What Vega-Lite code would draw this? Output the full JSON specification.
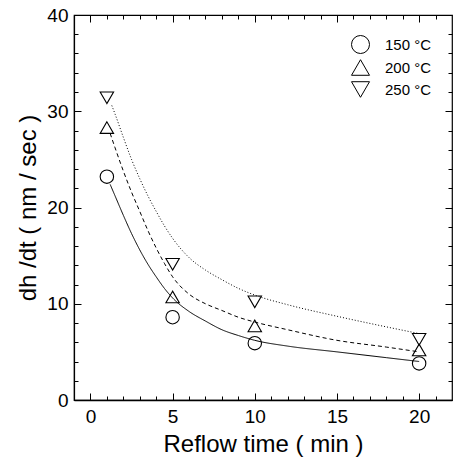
{
  "$schema": "https://vega.github.io/schema/vega-lite/v6.json",
  "width": 378,
  "height": 385,
  "autosize": "none",
  "padding": {"left": 74, "top": 15, "right": 1, "bottom": 59},
  "background": "white",
  "config": {
    "font": "Liberation Sans",
    "view": {"stroke": "black", "strokeWidth": 1.2},
    "legend": {"labelFont": "Liberation Sans", "labelColor": "black", "labelFontSize": 15, "symbolSize": 324, "rowPadding": 1, "labelOffset": 15, "padding": 0, "offset": 20, "symbolStrokeWidth": 1},
    "axis": {
      "grid": false,
      "domain": false,
      "tickColor": "black",
      "tickWidth": 1,
      "labelColor": "black",
      "titleColor": "black",
      "labelFont": "Liberation Sans",
      "titleFont": "Liberation Sans",
      "labelFontSize": 19,
      "titleFontSize": 24,
      "titleFontWeight": "normal"
    }
  },
  "datasets": {
    "pts": [
      {"t": 1, "v": 23.2, "series": "150 °C"},
      {"t": 5, "v": 8.6, "series": "150 °C"},
      {"t": 10, "v": 5.9, "series": "150 °C"},
      {"t": 20, "v": 3.8, "series": "150 °C"},
      {"t": 1, "v": 28.3, "series": "200 °C"},
      {"t": 5, "v": 10.7, "series": "200 °C"},
      {"t": 10, "v": 7.7, "series": "200 °C"},
      {"t": 20, "v": 5.2, "series": "200 °C"},
      {"t": 1, "v": 31.4, "series": "250 °C"},
      {"t": 5, "v": 14.1, "series": "250 °C"},
      {"t": 10, "v": 10.2, "series": "250 °C"},
      {"t": 20, "v": 6.3, "series": "250 °C"}
    ],
    "curves": [
      {"t": 1.2, "v": 22.4, "curve": "150 °C"},
      {"t": 1.5, "v": 21.2, "curve": "150 °C"},
      {"t": 2, "v": 19.2, "curve": "150 °C"},
      {"t": 2.5, "v": 17.3, "curve": "150 °C"},
      {"t": 3, "v": 15.6, "curve": "150 °C"},
      {"t": 3.5, "v": 14.1, "curve": "150 °C"},
      {"t": 4, "v": 12.8, "curve": "150 °C"},
      {"t": 4.5, "v": 11.6, "curve": "150 °C"},
      {"t": 5, "v": 10.6, "curve": "150 °C"},
      {"t": 6, "v": 9.2, "curve": "150 °C"},
      {"t": 7, "v": 8.2, "curve": "150 °C"},
      {"t": 8, "v": 7.3, "curve": "150 °C"},
      {"t": 9, "v": 6.7, "curve": "150 °C"},
      {"t": 10, "v": 6.2, "curve": "150 °C"},
      {"t": 12, "v": 5.6, "curve": "150 °C"},
      {"t": 15, "v": 5.0, "curve": "150 °C"},
      {"t": 18, "v": 4.4, "curve": "150 °C"},
      {"t": 20, "v": 4.0, "curve": "150 °C"},
      {"t": 1.2, "v": 27.7, "curve": "200 °C"},
      {"t": 1.5, "v": 26.2, "curve": "200 °C"},
      {"t": 2, "v": 23.8, "curve": "200 °C"},
      {"t": 2.5, "v": 21.6, "curve": "200 °C"},
      {"t": 3, "v": 19.6, "curve": "200 °C"},
      {"t": 3.5, "v": 17.6, "curve": "200 °C"},
      {"t": 4, "v": 15.8, "curve": "200 °C"},
      {"t": 4.5, "v": 14.2, "curve": "200 °C"},
      {"t": 5, "v": 12.8, "curve": "200 °C"},
      {"t": 6, "v": 11.0, "curve": "200 °C"},
      {"t": 7, "v": 10.0, "curve": "200 °C"},
      {"t": 8, "v": 9.3, "curve": "200 °C"},
      {"t": 9, "v": 8.6, "curve": "200 °C"},
      {"t": 10, "v": 8.1, "curve": "200 °C"},
      {"t": 12, "v": 7.3, "curve": "200 °C"},
      {"t": 15, "v": 6.2, "curve": "200 °C"},
      {"t": 18, "v": 5.5, "curve": "200 °C"},
      {"t": 20, "v": 5.0, "curve": "200 °C"},
      {"t": 1.3, "v": 30.6, "curve": "250 °C"},
      {"t": 1.5, "v": 29.7, "curve": "250 °C"},
      {"t": 2, "v": 27.3, "curve": "250 °C"},
      {"t": 2.5, "v": 25.0, "curve": "250 °C"},
      {"t": 3, "v": 23.0, "curve": "250 °C"},
      {"t": 3.5, "v": 21.2, "curve": "250 °C"},
      {"t": 4, "v": 19.6, "curve": "250 °C"},
      {"t": 4.5, "v": 18.1, "curve": "250 °C"},
      {"t": 5, "v": 16.8, "curve": "250 °C"},
      {"t": 6, "v": 14.8, "curve": "250 °C"},
      {"t": 7, "v": 13.5, "curve": "250 °C"},
      {"t": 8, "v": 12.5, "curve": "250 °C"},
      {"t": 9, "v": 11.6, "curve": "250 °C"},
      {"t": 10, "v": 10.9, "curve": "250 °C"},
      {"t": 12, "v": 9.9, "curve": "250 °C"},
      {"t": 15, "v": 8.7, "curve": "250 °C"},
      {"t": 18, "v": 7.6, "curve": "250 °C"},
      {"t": 20, "v": 6.9, "curve": "250 °C"}
    ]
  },
  "layer": [
    {
      "data": {"name": "pts"},
      "mark": {"type": "point", "filled": false, "strokeWidth": 1.1, "size": 180, "opacity": 1},
      "encoding": {
        "x": {"field": "t", "type": "quantitative", "scale": {"domain": [-1, 22], "nice": false, "zero": false},
          "axis": {"orient": "bottom", "values": [0, 5, 10, 15, 20], "tickSize": -7, "labelPadding": 14, "domain": true, "domainWidth": 1.6, "domainColor": "black", "title": "Reflow time ( min )", "titlePadding": 6}},
        "y": {"field": "v", "type": "quantitative", "scale": {"domain": [0, 40], "nice": false},
          "axis": {"orient": "left", "values": [0, 10, 20, 30, 40], "tickSize": -7, "labelPadding": 13, "domain": true, "domainWidth": 1.2, "domainColor": "black", "title": "dh /dt ( nm / sec )", "titlePadding": 6}},
        "shape": {"field": "series", "type": "nominal",
          "scale": {"domain": ["150 °C", "200 °C", "250 °C"], "range": ["circle", "triangle-up", "triangle-down"]},
          "legend": null},
        "color": {"field": "series", "type": "nominal",
          "scale": {"domain": ["150 °C", "200 °C", "250 °C"], "range": ["black", "black", "black"]},
          "legend": {
            "title": null,
            "orient": "top-right",
            "offset": 20,
            "padding": 0,
            "symbolSize": 324,
            "rowPadding": 1,
            "labelOffset": 15,
            "labelFontSize": 15,
            "encode": {
              "symbols": {
                "shape": {"value": {"expr": "datum.value === '150 °C' ? 'M-2,0H-0.38M0.38,0H2M-0.38,0A0.38,0.38 0 1,0 0.38,0A0.38,0.38 0 1,0 -0.38,0Z' : datum.value === '200 °C' ? 'M-2,0H-1.67M-1.45,0H-1.12M-0.9,0H-0.57M0.57,0H0.9M1.12,0H1.45M1.67,0H2M0,-0.4L-0.45,0.35L0.45,0.35Z' : 'M-2,0H-1.88M-1.7,0H-1.58M-1.4,0H-1.28M-1.1,0H-0.98M-0.8,0H-0.68M0.68,0H0.8M0.98,0H1.1M1.28,0H1.4M1.58,0H1.7M1.88,0H2M0,0.4L-0.45,-0.35L0.45,-0.35Z'"}},
                "fill": {"value": "transparent"},
                "strokeWidth": {"value": 1}
              }
            }
          }
        }
      }
    },
    {
      "data": {"name": "curves"},
      "mark": {"type": "line", "color": "black", "strokeWidth": 1, "interpolate": "monotone"},
      "encoding": {
        "x": {"field": "t", "type": "quantitative", "scale": {"domain": [-1, 22], "nice": false, "zero": false}, "axis": null},
        "y": {"field": "v", "type": "quantitative", "scale": {"domain": [0, 40], "nice": false}, "axis": null},
        "strokeDash": {"field": "curve", "type": "nominal", "scale": {"range": [[1, 0], [4, 3], [1, 2]]}, "legend": null}
      }
    },
    {
      "data": {"name": "pts"},
      "mark": {"type": "point", "opacity": 0},
      "encoding": {
        "x": {"field": "t", "type": "quantitative", "scale": {"domain": [-1, 22], "nice": false, "zero": false},
          "axis": {"orient": "bottom", "values": [0, 1, 2, 3, 4, 5, 6, 7, 8, 9, 10, 11, 12, 13, 14, 15, 16, 17, 18, 19, 20, 21], "tickSize": -4, "labels": false, "title": null}},
        "y": {"field": "v", "type": "quantitative", "scale": {"domain": [0, 40], "nice": false},
          "axis": {"orient": "left", "values": [2, 4, 6, 8, 12, 14, 16, 18, 22, 24, 26, 28, 32, 34, 36, 38], "tickSize": -4, "labels": false, "title": null}}
      }
    },
    {
      "data": {"name": "pts"},
      "mark": {"type": "point", "opacity": 0},
      "encoding": {
        "x": {"field": "t", "type": "quantitative", "scale": {"domain": [-1, 22], "nice": false, "zero": false},
          "axis": {"orient": "top", "values": [0, 5, 10, 15, 20], "tickSize": -7, "labels": false, "title": null}},
        "y": {"field": "v", "type": "quantitative", "scale": {"domain": [0, 40], "nice": false},
          "axis": {"orient": "right", "values": [0, 10, 20, 30, 40], "tickSize": -7, "labels": false, "title": null}}
      }
    },
    {
      "data": {"name": "pts"},
      "mark": {"type": "point", "opacity": 0},
      "encoding": {
        "x": {"field": "t", "type": "quantitative", "scale": {"domain": [-1, 22], "nice": false, "zero": false},
          "axis": {"orient": "top", "values": [0, 1, 2, 3, 4, 5, 6, 7, 8, 9, 10, 11, 12, 13, 14, 15, 16, 17, 18, 19, 20, 21], "tickSize": -4, "labels": false, "title": null}},
        "y": {"field": "v", "type": "quantitative", "scale": {"domain": [0, 40], "nice": false},
          "axis": {"orient": "right", "values": [2, 4, 6, 8, 12, 14, 16, 18, 22, 24, 26, 28, 32, 34, 36, 38], "tickSize": -4, "labels": false, "title": null}}
      }
    }
  ],
  "resolve": {"axis": {"x": "independent", "y": "independent"}}
}
